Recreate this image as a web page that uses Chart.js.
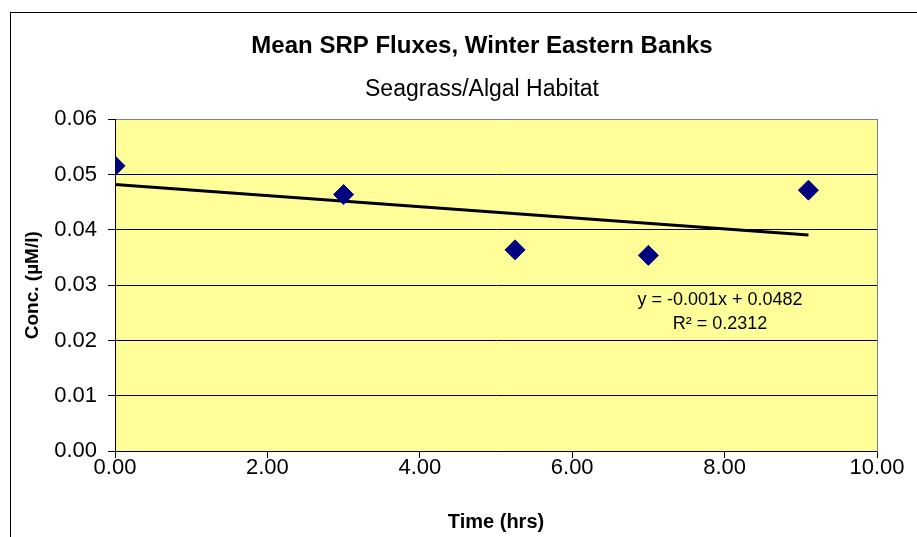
<!DOCTYPE html>
<html>
<head>
<meta charset="utf-8">
<script src="https://cdn.jsdelivr.net/npm/chart.js@4"></script>
<style>
  html, body { margin: 0; padding: 0; background: #fff; overflow: hidden; }
  #wrap { position: absolute; left: 0; top: 0; width: 954px; height: 537px; }
</style>
</head>
<body>
<div id="wrap"><canvas id="fluxChart" width="954" height="537"></canvas></div>
<script>
// sampled points (time in hrs, SRP conc. in uM/l)
const timeHrs = [0.0, 3.0, 5.25, 7.0, 9.1];
const concVals = [0.0516, 0.0464, 0.0364, 0.0354, 0.0472];

// linear trendline endpoints as drawn
const trendX = [0.0, 9.1];
const trendY = [0.0482, 0.0391];

const xTicks = [0, 2, 4, 6, 8, 10];
const yTicks = [0, 0.01, 0.02, 0.03, 0.04, 0.05, 0.06];
const trendText = ['y = -0.001x + 0.0482', 'R\u00B2 = 0.2312'];

const FONT = "'Liberation Sans', Arial, sans-serif";

const frame = {
    id: 'frame',
    beforeDraw: (chart) => {
        const ctx = chart.ctx;
        const a = chart.chartArea;
        ctx.save();
        ctx.fillStyle = '#fff';
        ctx.fillRect(0, 0, chart.width, chart.height);
        ctx.strokeStyle = '#000';
        ctx.lineWidth = 1;
        ctx.strokeRect(10.5, 12.5, 2000, 2000);
        ctx.fillStyle = '#FFFF99';
        ctx.fillRect(a.left, a.top, a.right - a.left, a.bottom - a.top);
        ctx.restore();
    },
    afterDraw: (chart) => {
        const ctx = chart.ctx;
        const xs = chart.scales.x;
        const ys = chart.scales.y;
        ctx.save();
        ctx.fillStyle = '#000';
        ctx.font = '18px ' + FONT;
        ctx.textAlign = 'center';
        ctx.textBaseline = 'middle';
        const cx = xs.getPixelForValue(7.94);
        ctx.fillText(trendText[0], cx, ys.getPixelForValue(0.0274));
        ctx.fillText(trendText[1], cx, ys.getPixelForValue(0.0230));
        ctx.restore();
    }
};

new Chart(document.getElementById('fluxChart'), {
    type: 'scatter',
    data: {
        datasets: [{
            type: 'line',
            label: 'Linear trend',
            data: trendX.map((x, i) => ({ x: x, y: trendY[i] })),
            borderColor: '#000',
            borderWidth: 3,
            pointRadius: 0,
            fill: false,
            order: 2
        }, {
            label: 'Mean SRP',
            data: timeHrs.map((x, i) => ({ x: x, y: concVals[i] })),
            pointStyle: 'rectRot',
            pointRadius: 10,
            pointHoverRadius: 10,
            backgroundColor: '#000080',
            borderColor: '#000080',
            borderWidth: 1,
            order: 1
        }]
    },
    options: {
        responsive: false,
        animation: false,
        layout: { padding: { left: 10, top: 12, right: 0, bottom: 0 } },
        plugins: {
            legend: { display: false },
            tooltip: { enabled: false },
            title: {
                display: true,
                text: 'Mean SRP Fluxes, Winter Eastern Banks',
                color: '#000',
                font: { family: FONT, size: 24, weight: 'bold', lineHeight: 1.2 },
                padding: { top: 20, bottom: 15 }
            },
            subtitle: {
                display: true,
                text: 'Seagrass/Algal Habitat',
                color: '#000',
                font: { family: FONT, size: 23, lineHeight: 1.2 },
                padding: { top: 0, bottom: 16 }
            }
        },
        scales: {
            x: {
                type: 'linear',
                min: 0,
                max: 10,
                afterBuildTicks: (s) => { s.ticks = xTicks.map(v => ({ value: v })); },
                afterFit: (s) => { s.height = 86; },
                ticks: {
                    color: '#000',
                    font: { family: FONT, size: 22 },
                    padding: -3,
                    maxRotation: 0,
                    callback: (v) => Number(v).toFixed(2)
                },
                grid: { drawOnChartArea: false, drawTicks: true, tickLength: 7, tickColor: '#000' },
                border: { display: true, color: '#000', width: 1 },
                title: {
                    display: true,
                    text: 'Time (hrs)',
                    color: '#000',
                    font: { family: FONT, size: 20, weight: 'bold' },
                    padding: { top: 0, bottom: 3 }
                }
            },
            y: {
                type: 'linear',
                min: 0,
                max: 0.06,
                afterBuildTicks: (s) => { s.ticks = yTicks.map(v => ({ value: v })); },
                afterFit: (s) => { s.width = 105; },
                ticks: {
                    color: '#000',
                    font: { family: FONT, size: 22 },
                    padding: 11,
                    callback: (v) => Number(v).toFixed(2)
                },
                grid: {
                    color: (c) => (c.tick && c.tick.value >= 0.06 ? '#808080' : '#000'),
                    lineWidth: 1,
                    drawTicks: true,
                    tickLength: 7,
                    tickColor: '#000'
                },
                border: { display: true, color: '#000', width: 1 },
                title: {
                    display: true,
                    text: 'Conc. (\u00B5M/l)',
                    color: '#000',
                    font: { family: FONT, size: 19, weight: 'bold' },
                    padding: { top: 11, bottom: 0 }
                }
            },
            yRight: {
                type: 'linear',
                position: 'right',
                min: 0,
                max: 0.06,
                afterFit: (s) => { s.width = 77; },
                ticks: { display: false },
                grid: { drawOnChartArea: false, drawTicks: false },
                border: { display: true, color: '#808080', width: 1 }
            }
        }
    },
    plugins: [frame]
});
</script>
</body>
</html>
